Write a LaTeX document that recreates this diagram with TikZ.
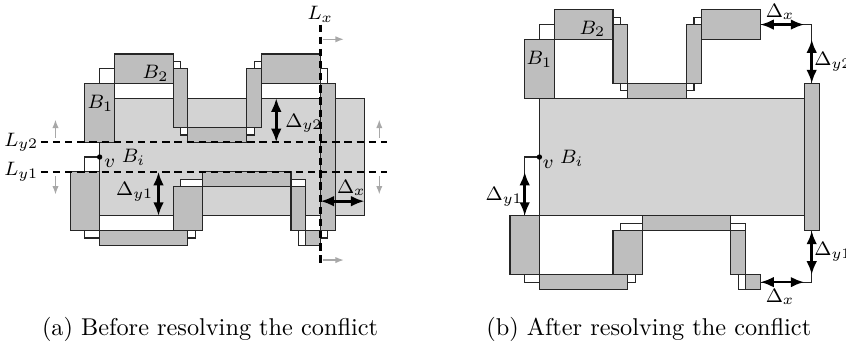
\documentclass[tikz,border=0pt]{standalone}
\usetikzlibrary{arrows.meta}
\definecolor{maingray}{RGB}{211,211,211}
\definecolor{boxgray}{RGB}{190,190,190}
\definecolor{hintgray}{RGB}{168,168,168}
\begin{document}
\begin{tikzpicture}[x=6.058pt,y=6.058pt,
  mainbox/.style={fill=maingray,draw=black!85,line width=0.45pt},
  blk/.style={fill=boxgray,draw=black!85,line width=0.45pt},
  wbox/.style={fill=white,draw=black!85,line width=0.45pt},
  cline/.style={draw=black!85,line width=0.45pt},
  cutline/.style={line width=0.9pt,dash pattern=on 3pt off 2pt},
  delta/.style={line width=1.1pt,{Latex[length=5.6pt,width=4.4pt]}-{Latex[length=5.6pt,width=4.4pt]}},
  hint/.style={hintgray,line width=0.6pt,-{Latex[length=3.5pt,width=2.6pt]}},
  lbl/.style={inner sep=0.8pt,font=\footnotesize}]
\useasboundingbox (-6.77,-8.84) rectangle (50.71,14.67);

% ---------------- (a) before ----------------
\begin{scope}
\draw[mainbox] (0,0) rectangle (18,8);
% connector corners
\draw[wbox] (0,9) rectangle (1,10);
\draw[wbox] (5,10) rectangle (5.5,10.5);
\draw[wbox] (5.5,5.5) rectangle (6,6);
\draw[wbox] (10,5.5) rectangle (10.5,6);
\draw[wbox] (10.5,10) rectangle (11,10.5);
\draw[wbox] (15,9) rectangle (15.5,10);
\draw[wbox] (-1,-1.5) rectangle (0,4);
\draw[wbox] (6,-1.5) rectangle (6.5,-1);
\draw[wbox] (5.5,2) rectangle (7,2.5);
\draw[wbox] (13,2) rectangle (14,2.5);
\draw[wbox] (13.5,-2) rectangle (14,-1);
\draw[wbox] (15,-1.5) rectangle (15.5,-1);
% boxes
\draw[blk] (-1,5) rectangle (1,9);
\draw[blk] (1,9) rectangle (5,11);
\draw[blk] (5,6) rectangle (6,10);
\draw[blk] (6,5) rectangle (10,6);
\draw[blk] (10,6) rectangle (11,10);
\draw[blk] (11,9) rectangle (15,11);
\draw[blk] (-2,-1) rectangle (0,3);
\draw[blk] (0,-2) rectangle (6,-1);
\draw[blk] (5,-1) rectangle (7,2);
\draw[blk] (7,2) rectangle (13,3);
\draw[blk] (13,-1) rectangle (14,2);
\draw[blk] (14,-2) rectangle (15,-1);
\draw[blk] (15,-1) rectangle (16,9);
% cut lines
\coordinate (ly2a) at (-4,5); \coordinate (ly2b) at (19.5,5);
\coordinate (ly1a) at (-4,3); \coordinate (ly1b) at (19.5,3);
\coordinate (lxa) at (15,13); \coordinate (lxb) at (15,-3.45);
\draw[cutline] (ly2a) -- (ly2b);
\draw[cutline] (ly1a) -- (ly1b);
\draw[cutline] (lxa) -- (lxb);
\node[lbl,anchor=east] (Ly2) at (ly2a) {$L_{y2}$};
\node[lbl,anchor=east] (Ly1) at (ly1a) {$L_{y1}$};
\node[lbl,anchor=south] (Lx) at (lxa) {$L_x$};
% hint arrows
\coordinate (h1a) at (15.15,12); \coordinate (h1b) at (16.6,12);
\coordinate (h2a) at (15.15,-3); \coordinate (h2b) at (16.6,-3);
\coordinate (h3a) at (-3,5.3); \coordinate (h3b) at (-3,6.55);
\coordinate (h4a) at (19,5.3); \coordinate (h4b) at (19,6.55);
\coordinate (h5a) at (-3,2.7); \coordinate (h5b) at (-3,1.45);
\coordinate (h6a) at (19,2.7); \coordinate (h6b) at (19,1.45);
\draw[hint] (h1a) -- (h1b);
\draw[hint] (h2a) -- (h2b);
\draw[hint] (h3a) -- (h3b);
\draw[hint] (h4a) -- (h4b);
\draw[hint] (h5a) -- (h5b);
\draw[hint] (h6a) -- (h6b);
% deltas
\coordinate (dy2a) at (12,8); \coordinate (dy2b) at (12,5);
\coordinate (dy1a) at (4,3); \coordinate (dy1b) at (4,0);
\coordinate (dxa) at (15,1); \coordinate (dxb) at (18,1);
\draw[delta] (dy2a) -- (dy2b);
\draw[delta] (dy1a) -- (dy1b);
\draw[delta] (dxa) -- (dxb);
\node[lbl,anchor=west] (Dy2a) at (12.45,6.3) {$\Delta_{y2}$};
\node[lbl,anchor=east] (Dy1a) at (3.8,1.65) {$\Delta_{y1}$};
\node[lbl] (Dxa) at (17.1,1.9) {$\Delta_x$};
% vertex and labels
\coordinate (va) at (0,4);
\fill (va) circle (1.1pt);
\node[lbl] (vla) at (0.68,3.6) {$v$};
\node[lbl] (Bia) at (2.3,3.95) {$B_i$};
\node[lbl] (B1a) at (0.05,7.65) {$B_1$};
\node[lbl] (B2a) at (3.8,9.7) {$B_2$};
\end{scope}

% ---------------- (b) after ----------------
\begin{scope}[shift={(29.88,0)}]
\draw[mainbox] (0,0) rectangle (18,8);
\draw[cline] (15,13) -- (18.5,13) -- (18.5,9);
\draw[cline] (15,-4.5) -- (18.5,-4.5) -- (18.5,-1);
\draw[wbox] (0,12) rectangle (1,13);
\draw[wbox] (5,13) rectangle (5.5,13.5);
\draw[wbox] (5.5,8.5) rectangle (6,9);
\draw[wbox] (10,8.5) rectangle (10.5,9);
\draw[wbox] (10.5,13) rectangle (11,13.5);
\draw[wbox] (-1,-4.5) rectangle (0,4);
\draw[wbox] (6,-4.5) rectangle (6.5,-4);
\draw[wbox] (5.5,-1) rectangle (7,-0.5);
\draw[wbox] (13,-1) rectangle (14,-0.5);
\draw[wbox] (13.5,-5) rectangle (14,-4);
\draw[blk] (-1,8) rectangle (1,12);
\draw[blk] (1,12) rectangle (5,14);
\draw[blk] (5,9) rectangle (6,13);
\draw[blk] (6,8) rectangle (10,9);
\draw[blk] (10,9) rectangle (11,13);
\draw[blk] (11,12) rectangle (15,14);
\draw[blk] (-2,-4) rectangle (0,0);
\draw[blk] (0,-5) rectangle (6,-4);
\draw[blk] (5,-4) rectangle (7,-1);
\draw[blk] (7,-1) rectangle (13,0);
\draw[blk] (13,-4) rectangle (14,-1);
\draw[blk] (14,-5) rectangle (15,-4);
\draw[blk] (18,-1) rectangle (19,9);
% deltas
\coordinate (bxa1) at (15,13); \coordinate (bxa2) at (18,13);
\coordinate (by2a) at (18.5,12); \coordinate (by2b) at (18.5,9);
\coordinate (by1la) at (-1,3); \coordinate (by1lb) at (-1,0);
\coordinate (by1ra) at (18.5,-1); \coordinate (by1rb) at (18.5,-4);
\coordinate (bxb1) at (15,-4.5); \coordinate (bxb2) at (18,-4.5);
\draw[delta] (bxa1) -- (bxa2);
\draw[delta] (by2a) -- (by2b);
\draw[delta] (by1la) -- (by1lb);
\draw[delta] (by1ra) -- (by1rb);
\draw[delta] (bxb1) -- (bxb2);
\node[lbl] (Dxb1) at (16.35,13.85) {$\Delta_x$};
\node[lbl,anchor=west,inner sep=0.4pt] (Dy2b) at (18.58,10.45) {$\Delta_{y2}$};
\node[lbl,anchor=east] (Dy1bl) at (-0.97,1.3) {$\Delta_{y1}$};
\node[lbl,anchor=west,inner sep=0.4pt] (Dy1br) at (18.58,-2.45) {$\Delta_{y1}$};
\node[lbl] (Dxb2) at (16.35,-5.5) {$\Delta_x$};
\coordinate (vb) at (0,4);
\fill (vb) circle (1.1pt);
\node[lbl] (vlb) at (0.6,3.5) {$v$};
\node[lbl] (Bib) at (2.2,3.92) {$B_i$};
\node[lbl] (B1b) at (0,10.65) {$B_1$};
\node[lbl] (B2b) at (3.6,12.7) {$B_2$};
\end{scope}

% captions
\node[anchor=base] (capa) at (7.5,-8.15) {(a) Before resolving the conflict};
\node[anchor=base] (capb) at (37.31,-8.15) {(b) After resolving the conflict};
\end{tikzpicture}
\end{document}
